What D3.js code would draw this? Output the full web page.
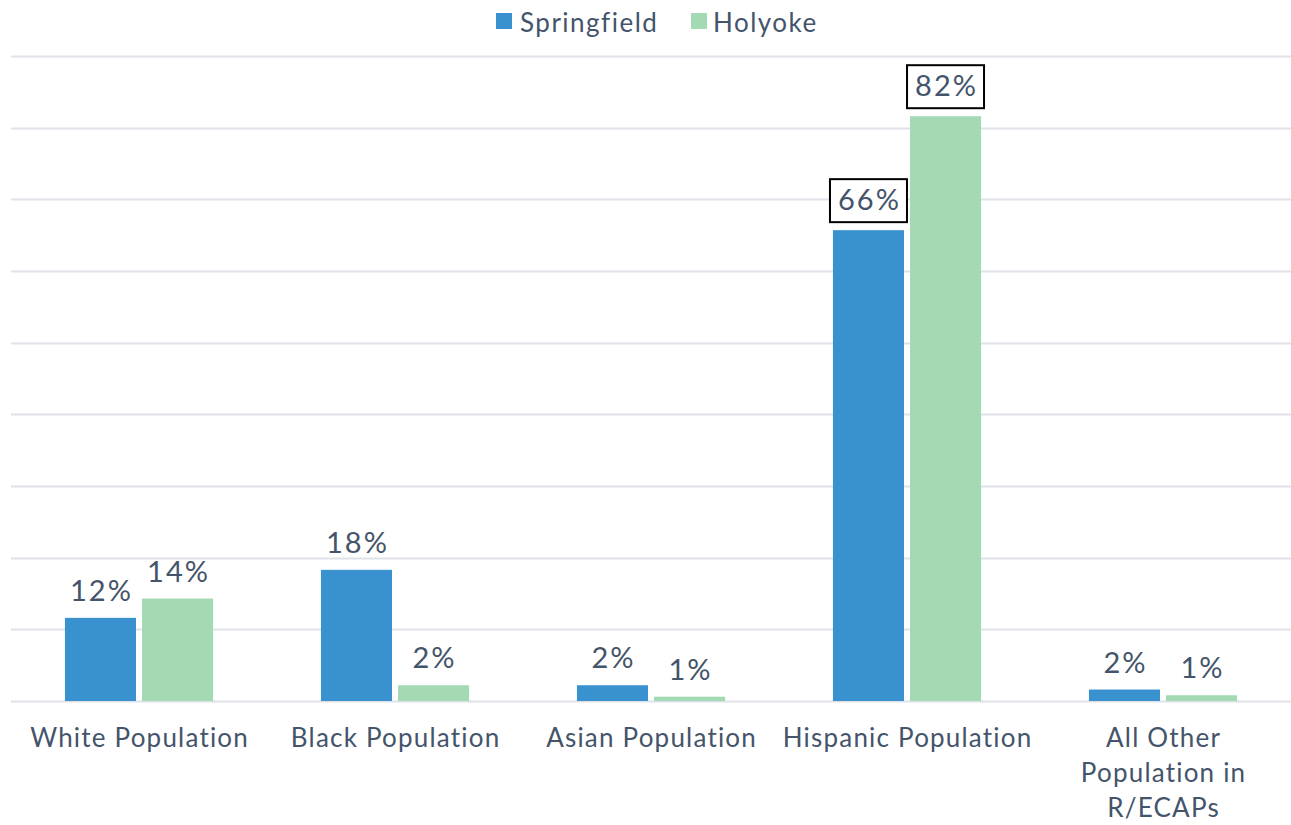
<!DOCTYPE html>
<html>
<head>
<meta charset="utf-8">
<script src="https://cdn.jsdelivr.net/npm/d3@7"></script>
<style>
  html, body { margin: 0; padding: 0; background: #fff; }
  svg { display: block; }
  text { font-family: Lato, "Noto Sans", sans-serif; fill: #44546A; }
</style>
</head>
<body>
<svg id="chart" width="1291" height="825"></svg>
<script>
// Share of each group's population living in R/ECAPs
const categories = [
  "White Population",
  "Black Population",
  "Asian Population",
  "Hispanic Population",
  "All Other\nPopulation in\nR/ECAPs"
];
const seriesNames = ["Springfield", "Holyoke"];
const springfield = [0.116, 0.183, 0.022, 0.657, 0.016];
const holyoke     = [0.143, 0.022, 0.006, 0.816, 0.008];
const yTicks = [0, 0.1, 0.2, 0.3, 0.4, 0.5, 0.6, 0.7, 0.8, 0.9];
// Labels drawn inside a box
const boxedCategories = ["Hispanic Population"];

const colors = { Springfield: "#3A91CF", Holyoke: "#A3DAB4" };

const svg = d3.select("#chart");
const plotLeft = 11, plotRight = 1291, plotTop = 56, plotBottom = 701;

const x = d3.scaleBand().domain(categories).range([plotLeft, plotRight]).padding(0);
const xInner = d3.scaleBand().domain(seriesNames)
  .range([0, x.bandwidth()]).paddingInner(0.078).paddingOuter(0.7);
const y = d3.scaleLinear().domain([0, 0.9]).range([plotBottom, plotTop]);

// Horizontal gridlines
svg.append("g")
  .selectAll("line")
  .data(yTicks)
  .join("line")
  .attr("x1", plotLeft).attr("x2", plotRight)
  .attr("y1", d => Math.round(y(d)) + 0.5)
  .attr("y2", d => Math.round(y(d)) + 0.5)
  .attr("stroke", "#DEE2E8")
  .attr("stroke-width", 2);

const rows = categories.map((c, i) => ({
  cat: c,
  values: [
    { series: "Springfield", value: springfield[i] },
    { series: "Holyoke", value: holyoke[i] }
  ]
}));

const fmt = d3.format(".0%");

const groups = svg.append("g")
  .selectAll("g")
  .data(rows)
  .join("g")
  .attr("transform", d => `translate(${x(d.cat)},0)`);

groups.selectAll("rect")
  .data(d => d.values)
  .join("rect")
  .attr("x", d => xInner(d.series))
  .attr("width", xInner.bandwidth())
  .attr("y", d => y(d.value))
  .attr("height", d => y(0) - y(d.value))
  .attr("fill", d => colors[d.series]);

// Value labels
const labelSpacing = 2;
groups.each(function(row) {
  const g = d3.select(this);
  const boxed = boxedCategories.includes(row.cat);
  row.values.forEach(v => {
    const cx = xInner(v.series) + xInner.bandwidth() / 2;
    const baseY = boxed ? y(v.value) - 20 : y(v.value) - 17;
    if (boxed) {
      g.append("rect")
        .attr("x", cx - 38.5)
        .attr("y", y(v.value) - 51)
        .attr("width", 77)
        .attr("height", 43)
        .attr("fill", "#fff")
        .attr("stroke", "#000")
        .attr("stroke-width", 2);
    }
    g.append("text")
      .attr("x", cx + labelSpacing / 2)
      .attr("y", baseY)
      .attr("text-anchor", "middle")
      .attr("font-size", 29)
      .attr("letter-spacing", labelSpacing)
      .text(fmt(v.value));
  });
});

// Category axis labels
const axisSpacing = 1.2;
const xAxis = svg.append("g");
categories.forEach(c => {
  const lines = c.split("\n");
  const cx = x(c) + x.bandwidth() / 2 + axisSpacing / 2;
  const t = xAxis.append("text")
    .attr("x", cx)
    .attr("y", 747)
    .attr("text-anchor", "middle")
    .attr("font-size", 26)
    .attr("letter-spacing", axisSpacing);
  lines.forEach((ln, i) => {
    t.append("tspan")
      .attr("x", cx)
      .attr("dy", i === 0 ? 0 : 35)
      .text(ln);
  });
});

// Legend
const legendItems = [
  { name: "Springfield", sx: 496, tx: 520 },
  { name: "Holyoke", sx: 691, tx: 713 }
];
const legend = svg.append("g");
legendItems.forEach(it => {
  legend.append("rect")
    .attr("x", it.sx).attr("y", 13)
    .attr("width", 16).attr("height", 16)
    .attr("fill", colors[it.name]);
  legend.append("text")
    .attr("x", it.tx).attr("y", 32)
    .attr("font-size", 26)
    .attr("letter-spacing", 1.5)
    .text(it.name);
});
</script>
</body>
</html>
